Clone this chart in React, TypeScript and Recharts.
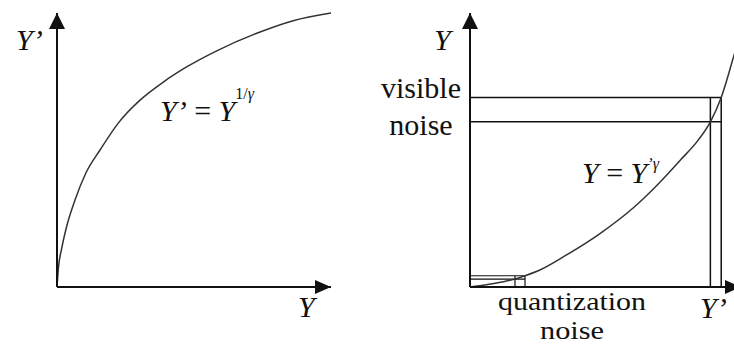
import React from 'react';
import { LineChart, Line, XAxis, YAxis, ReferenceDot, ReferenceLine, Customized } from 'recharts';

// Encoding curve Y' = Y^(1/γ), read along the linear-light axis (0..1 up to the arrow tips)
const encodeY = [0, 0.005, 0.017, 0.035, 0.066, 0.105, 0.157, 0.225, 0.303, 0.388, 0.473, 0.583, 0.729, 0.862, 1.0];
const encodeYp = [0, 0.068, 0.14, 0.22, 0.318, 0.415, 0.5, 0.6, 0.682, 0.748, 0.803, 0.862, 0.926, 0.972, 1.0];

// Decoding curve Y = Y'^γ
const decodeYp = [0, 0.06, 0.122, 0.166, 0.203, 0.258, 0.358, 0.481, 0.604, 0.653, 0.727, 0.775, 0.842, 0.887, 0.927, 0.973, 1.0];
const decodeY = [0, 0.008, 0.019, 0.029, 0.041, 0.062, 0.118, 0.196, 0.29, 0.335, 0.41, 0.462, 0.536, 0.603, 0.692, 0.841, 0.93];

// Two adjacent code values near the top and near the bottom, and the light levels they give
const brightCodes = [0.887, 0.927];
const brightLevels = [0.603, 0.692];
const darkCodes = [0.166, 0.203];
const darkLevels = [0.029, 0.041];

const encodeData = encodeY.map((y, i) => ({ x: y, v: encodeYp[i] }));
const decodeData = decodeYp.map((yp, i) => ({ x: yp, v: decodeY[i] }));

const INK = '#111';
const SERIF = 'Liberation Serif, DejaVu Serif, Times New Roman, serif';

const ArrowUp = (props: any) => {
  const { cx, cy } = props;
  return <polygon points={`${cx},${cy} ${cx - 8},${cy + 16} ${cx + 8},${cy + 16}`} fill={INK} />;
};

const ArrowRight = (props: any) => {
  const { cx, cy } = props;
  return <polygon points={`${cx},${cy} ${cx - 16},${cy - 7} ${cx - 16},${cy + 7}`} fill={INK} />;
};

const EncodeText = () => (
  <g fontFamily={SERIF} fontSize={30} fill={INK}>
    <text x={16} y={50} fontFamily={SERIF} fontStyle="italic">Y’</text>
    <text x={298} y={317} fontFamily={SERIF} fontStyle="italic">Y</text>
    <text x={160} y={121} fontFamily={SERIF}>
      <tspan fontStyle="italic">Y’</tspan>
      <tspan> = </tspan>
      <tspan fontStyle="italic">Y</tspan>
      <tspan fontSize={16} dy={-22}>1/</tspan>
      <tspan fontSize={16} fontStyle="italic">γ</tspan>
    </text>
  </g>
);

const DecodeText = () => (
  <g fontFamily={SERIF} fontSize={30} fill={INK}>
    <text x={67} y={50} fontFamily={SERIF} fontStyle="italic">Y</text>
    <text x={54} y={98} fontFamily={SERIF} textAnchor="middle">visible</text>
    <text x={54} y={135} fontFamily={SERIF} textAnchor="middle">noise</text>
    <text x={215} y={183} fontFamily={SERIF}>
      <tspan fontStyle="italic">Y</tspan>
      <tspan> = </tspan>
      <tspan fontStyle="italic">Y</tspan>
      <tspan fontSize={16} fontStyle="italic" dy={-14}>’γ</tspan>
    </text>
    {/* two tight lines under the axis, stretched to keep the wide label */}
    <text x={131} y={310} fontFamily={SERIF} fontSize={26} textLength={148} lengthAdjust="spacingAndGlyphs">
      quantization
    </text>
    <text x={173} y={339} fontFamily={SERIF} fontSize={26} textLength={64} lengthAdjust="spacingAndGlyphs">
      noise
    </text>
    <text x={333} y={318} fontFamily={SERIF} fontStyle="italic">Y’</text>
  </g>
);

// Both panels share the same bare axes: a line along each edge with an arrowhead at its end
const Axes = () => [
  <ReferenceLine key="ax" segment={[{ x: 0, y: 0 }, { x: 1, y: 0 }]} stroke={INK} strokeWidth={2} ifOverflow="visible" />,
  <ReferenceLine key="ay" segment={[{ x: 0, y: 0 }, { x: 0, y: 1 }]} stroke={INK} strokeWidth={2} ifOverflow="visible" />,
  <ReferenceDot key="hy" x={0} y={1} r={0} ifOverflow="visible" shape={ArrowUp} />,
  <ReferenceDot key="hx" x={1} y={0} r={0} ifOverflow="visible" shape={ArrowRight} />,
];

export default function App() {
  return (
    <div style={{ position: 'absolute', left: 0, top: 0, width: 734, height: 345, overflow: 'hidden', background: '#fff' }}>
      <div style={{ position: 'absolute', left: 0, top: 0 }}>
        <LineChart width={367} height={345} data={encodeData} margin={{ top: 13, right: 36, bottom: 58, left: 57 }}>
          <XAxis dataKey="x" type="number" domain={[0, 1]} hide />
          <YAxis type="number" domain={[0, 1]} hide />
          <Line
            dataKey="v"
            type="monotone"
            stroke="#333"
            strokeWidth={1.5}
            dot={false}
            isAnimationActive={false}
          />
          {Axes()}
          <Customized component={EncodeText} />
        </LineChart>
      </div>
      <div style={{ position: 'absolute', left: 367, top: 0 }}>
        <LineChart width={400} height={345} data={decodeData} margin={{ top: 13, right: 26, bottom: 58, left: 103 }}>
          <XAxis dataKey="x" type="number" domain={[0, 1]} hide />
          <YAxis type="number" domain={[0, 1]} hide />
          {brightLevels.map((lv) => (
            <ReferenceLine
              key={`bl${lv}`}
              segment={[{ x: 0, y: lv }, { x: brightCodes[1], y: lv }]}
              stroke={INK}
              strokeWidth={1.5}
              ifOverflow="visible"
            />
          ))}
          {brightCodes.map((c) => (
            <ReferenceLine
              key={`bc${c}`}
              segment={[{ x: c, y: 0 }, { x: c, y: brightLevels[1] }]}
              stroke={INK}
              strokeWidth={1.5}
              ifOverflow="visible"
            />
          ))}
          {darkLevels.map((lv) => (
            <ReferenceLine
              key={`dl${lv}`}
              segment={[{ x: 0, y: lv }, { x: darkCodes[1], y: lv }]}
              stroke={INK}
              strokeWidth={1.2}
              ifOverflow="visible"
            />
          ))}
          {darkCodes.map((c) => (
            <ReferenceLine
              key={`dc${c}`}
              segment={[{ x: c, y: 0 }, { x: c, y: darkLevels[1] }]}
              stroke={INK}
              strokeWidth={1.2}
              ifOverflow="visible"
            />
          ))}
          <Line
            dataKey="v"
            type="monotone"
            stroke="#333"
            strokeWidth={1.5}
            dot={false}
            isAnimationActive={false}
          />
          {Axes()}
          <Customized component={DecodeText} />
        </LineChart>
      </div>
    </div>
  );
}
